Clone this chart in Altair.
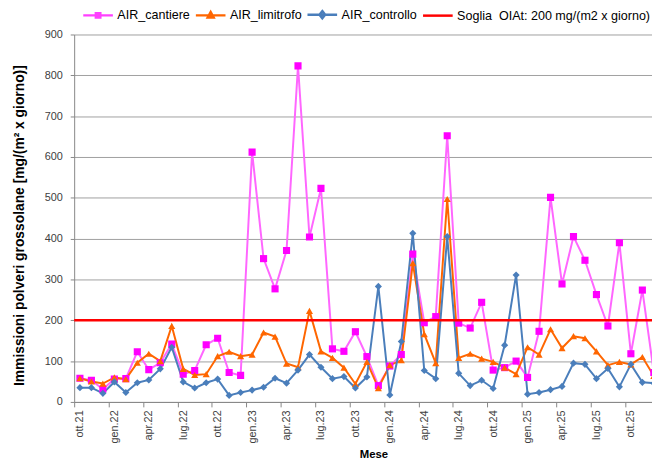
import json
import altair as alt
import pandas as pd

# ---------------- data ----------------
nomi_mesi = ["gen", "feb", "mar", "apr", "mag", "giu", "lug", "ago", "set", "ott", "nov", "dic"]
mesi = [f"{nomi_mesi[(9 + k) % 12]}.{21 + (9 + k) // 12}" for k in range(51)]  # ott.21 ... dic.25

cantiere = [58, 53, 31, 56, 57, 123, 79, 96, 142, 68, 77, 140, 156, 72, 65, 612, 351, 277, 371, 823,
            404, 523, 130, 124, 172, 111, 40, 88, 116, 362, 194, 209, 652, 193, 181, 244, 78, 84, 100, 60,
            173, 501, 289, 405, 347, 263, 186, 390, 118, 274, 72]
limitrofo = [58, 50, 45, 60, 56, 96, 118, 100, 186, 81, 66, 68, 112, 123, 112, 116, 170, 160, 94, 85,
             223, 124, 108, 84, 44, 98, 34, 90, 102, 340, 166, 95, 497, 108, 118, 106, 98, 84, 68, 134,
             116, 178, 132, 161, 156, 124, 90, 98, 92, 110, 64]
controllo = [35, 35, 21, 49, 23, 47, 54, 81, 134, 49, 34, 47, 56, 16, 23, 29, 36, 58, 46, 78,
             116, 85, 57, 62, 34, 61, 283, 17, 148, 413, 77, 57, 405, 70, 40, 53, 33, 139, 311, 19,
             23, 30, 38, 95, 92, 57, 82, 37, 92, 48, 46]

serie_nomi = ["AIR_cantiere", "AIR_limitrofo", "AIR_controllo"]
soglia = 200
soglia_nome = "Soglia\u00a0 OIAt: 200 mg/(m2 x giorno)"
legenda_voci = serie_nomi + [soglia_nome]

y_ticks = list(range(0, 1000, 100))
etichette = [mesi[k] for k in range(0, 51, 3)]          # ott.21, gen.22, ... ott.25
bordi = [k - 0.5 for k in range(0, 51, 3)]               # tick marks between categories

titolo_y = "Immissioni polveri grossolane [mg/(m² x giorno)]"
titolo_x = "Mese"

# ---------------- styles ----------------
col_linee = ["#FF66FF", "#FF6600", "#4A7EBB"]
col_marker = ["#FF00FF", "#FF6600", "#4A7EBB"]
forme = ["square", "triangle-up", "diamond"]
col_legenda = ["#FF40FF", "#FF6600", "#4A7EBB", "#FF0000"]
simboli_legenda = [
    "M-1,0H1M-0.15,-0.15H0.15V0.15H-0.15Z",
    "M-1,0H1M0,-0.22L0.2,0.15H-0.2Z",
    "M-1,0H1M0,-0.24L0.19,0L0,0.24L-0.19,0Z",
    "M-1,0H1",
]
FONT = "Liberation Sans"
AX = "#868686"

rows = []
for nome, valori in zip(serie_nomi, [cantiere, limitrofo, controllo]):
    for k, v in enumerate(valori):
        rows.append({"i": k, "mese": mesi[k], "serie": nome, "valore": v})
df = pd.DataFrame(rows)

x_scale = alt.Scale(domain=[-0.5, 49.84], nice=False, zero=False)
y_scale = alt.Scale(domain=[0, 900], nice=False)

ax_y = alt.Axis(values=y_ticks, grid=True, gridColor="#A0A0A0", gridWidth=1,
                domainColor=AX, tickColor=AX, tickSize=4,
                labelFontSize=11, labelColor="#404040", labelPadding=8, labelFlush=False,
                title=titolo_y, titleFontSize=14, titleFontWeight="bold", titleColor="#000000",
                titleAngle=270, titleX=-55, titleY=193, titleBaseline="middle", titleAlign="center")

label_expr = f"{json.dumps(etichette)}[round((datum.value + 0.5) / 3)]"
ax_x = alt.Axis(values=bordi, orient="bottom", labelExpr=label_expr, labelAngle=270,
                labelAlign="right", labelBaseline="middle", labelOffset=5.8,
                labelFontSize=11, labelColor="#404040", labelPadding=3,
                ticks=True, tickSize=5, tickColor=AX, domainColor=AX, grid=False,
                labelFlush=False, labelOverlap=False,
                title=titolo_x, titleFontSize=11.5, titleFontWeight="bold", titleColor="#000000",
                titleX=303, titleY=53, titleBaseline="middle", titleAlign="center")

base = alt.Chart(df)

linee = base.mark_line(strokeWidth=2, clip=True).encode(
    x=alt.X("i:Q", scale=x_scale, axis=ax_x),
    y=alt.Y("valore:Q", scale=y_scale, axis=ax_y),
    color=alt.Color("serie:N", scale=alt.Scale(domain=serie_nomi, range=col_linee), legend=None),
)

punti = base.mark_point(filled=True, opacity=1, size=52, clip=True).encode(
    x=alt.X("i:Q", scale=x_scale, axis=ax_x),
    y=alt.Y("valore:Q", scale=y_scale, axis=ax_y),
    fill=alt.Fill("serie:N", scale=alt.Scale(domain=serie_nomi, range=col_marker), legend=None),
    shape=alt.Shape("serie:N", scale=alt.Scale(domain=serie_nomi, range=forme), legend=None),
)

regola = alt.Chart(pd.DataFrame({"soglia": [soglia]})).mark_rule(
    color="#FF0000", strokeWidth=2.5
).encode(
    y=alt.Y("soglia:Q", scale=y_scale, axis=ax_y),
)

leg = alt.Legend(title=None, orient="none", legendX=7.7, legendY=-37, direction="horizontal",
                 columns=4, symbolSize=900, symbolStrokeWidth=2.5,
                 labelFont=FONT, labelFontSize=12.7, labelColor="#000000", labelOffset=3,
                 columnPadding=0, padding=0, labelLimit=400)

legenda = alt.Chart(pd.DataFrame({"voce": legenda_voci})).transform_filter("false").mark_point(
    filled=False, opacity=1, strokeWidth=2.5
).encode(
    color=alt.Color("voce:N", scale=alt.Scale(domain=legenda_voci, range=col_legenda), legend=leg),
    shape=alt.Shape("voce:N", scale=alt.Scale(domain=legenda_voci, range=simboli_legenda), legend=leg),
)

chart = (
    alt.layer(linee, punti, regola, legenda)
    .resolve_scale(color="independent", shape="independent")
    .properties(
        width=585, height=372,
        autosize=alt.AutoSizeParams(type="none"),
        padding={"left": 67, "top": 24, "right": 0, "bottom": 59},
        background="white",
    )
    .configure_view(strokeWidth=0)
    .configure_axis(labelFont=FONT, titleFont=FONT)
    .configure_legend(labelFont=FONT)
)

chart.save("out.html", embed_options={"renderer": "svg", "actions": False})
